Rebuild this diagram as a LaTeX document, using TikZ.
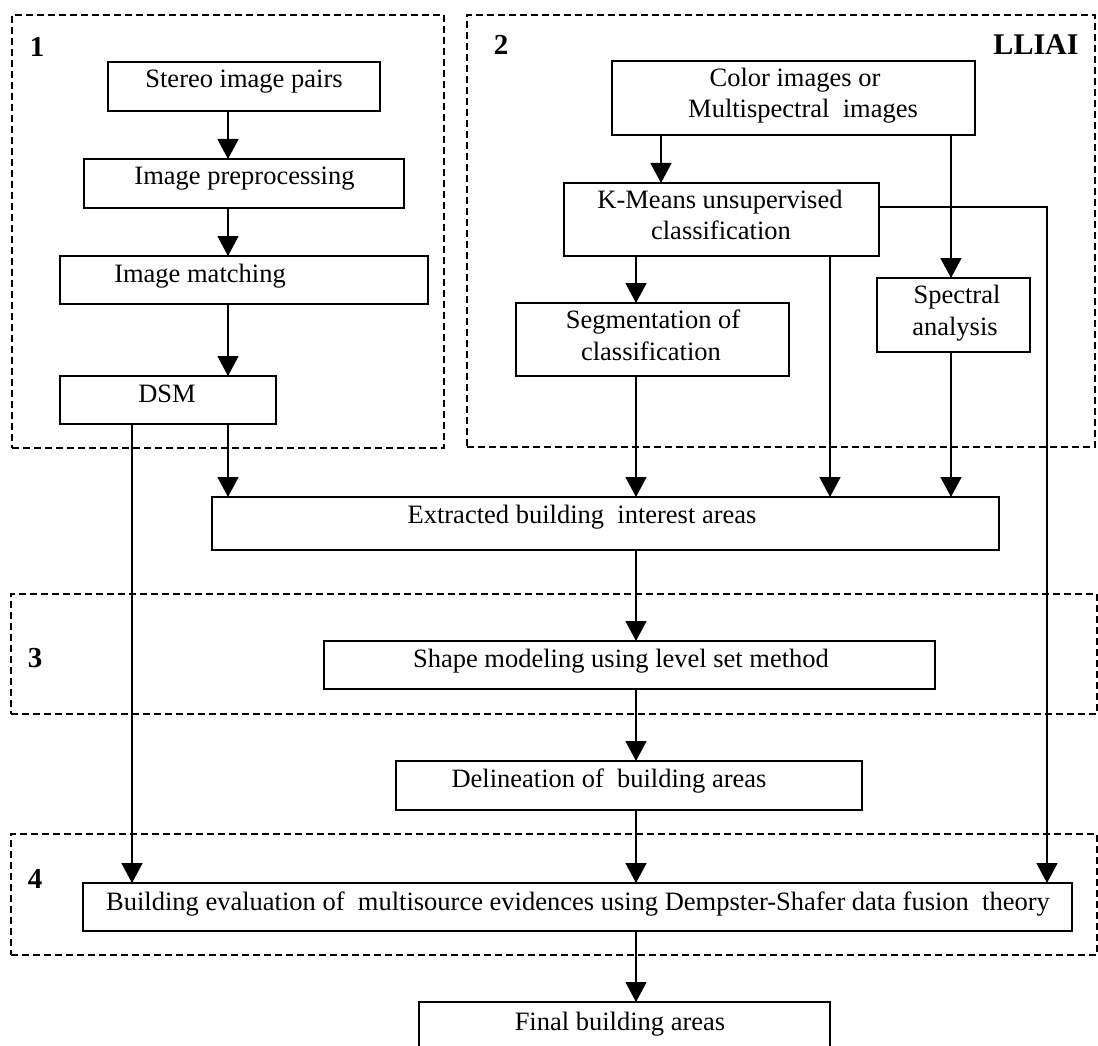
\documentclass[tikz,border=0pt]{standalone}
\usepackage{fontspec}
\setmainfont{Liberation Serif}
\usetikzlibrary{arrows.meta}
\begin{document}
\begin{tikzpicture}[x=1pt,y=-1pt,
  box/.style={draw, line width=2.2pt, rectangle, inner sep=0pt, outer sep=0pt},
  txt/.style={anchor=base, inner sep=0pt, font=\fontsize{26.5}{31}\selectfont},
  tag/.style={anchor=base, inner sep=0pt, font=\fontsize{29}{34}\selectfont\bfseries},
  group/.style={draw, line width=1.9pt, dash pattern=on 7pt off 4pt, rectangle, inner sep=0pt},
  arr/.style={line width=1.6pt, -{Triangle[width=21pt,length=20pt]}},
  link/.style={line width=1.6pt}]
\clip (0,0) rectangle (1098,1046);
\useasboundingbox (0,0) rectangle (1098,1046);

% dashed stage frames
\node[group, minimum width=432pt, minimum height=433pt] (grp1) at (228,231.5) {};
\node[group, minimum width=628pt, minimum height=432pt] (grp2) at (781,231) {};
\node[group, minimum width=1086pt, minimum height=120pt] (grp3) at (554,654) {};
\node[group, minimum width=1086pt, minimum height=121pt] (grp4) at (554,894.5) {};

\node[tag] (n1) at (37,57) {1};
\node[tag] (n2) at (501,55) {2};
\node[tag] (n3) at (35,667) {3};
\node[tag] (n4) at (35,888) {4};
\node[tag, font=\fontsize{30}{34}\selectfont\bfseries] (lab) at (1036,55) {LLIAI};

% stage 1
\node[box, minimum width=272pt, minimum height=49pt] (stereo) at (244,86.5) {};
\node[txt] (stereo-t) at (244,88) {Stereo image pairs};
\node[box, minimum width=320pt, minimum height=49pt] (prep) at (244,183.5) {};
\node[txt] (prep-t) at (244.5,185) {Image preprocessing};
\node[box, minimum width=368pt, minimum height=48pt] (match) at (244,280) {};
\node[txt] (match-t) at (200,282) {Image matching};
\node[box, minimum width=216pt, minimum height=48pt] (dsm) at (168,400) {};
\node[txt] (dsm-t) at (167,402) {DSM};

% stage 2
\node[box, minimum width=363pt, minimum height=74pt] (color) at (793.5,98) {};
\node[txt] (color-t1) at (795,87) {Color images or};
\node[txt] (color-t2) at (803,118) {Multispectral~ images};
\node[box, minimum width=315pt, minimum height=73pt] (kmeans) at (721.5,219.5) {};
\node[txt] (kmeans-t1) at (720,208) {K-Means unsupervised};
\node[txt] (kmeans-t2) at (721,239) {classification};
\node[box, minimum width=273pt, minimum height=73pt] (seg) at (652.5,339.5) {};
\node[txt] (seg-t1) at (653,328) {Segmentation of};
\node[txt] (seg-t2) at (651,360) {classification};
\node[box, minimum width=153pt, minimum height=74pt] (spec) at (953.5,315) {};
\node[txt] (spec-t1) at (957,303) {Spectral};
\node[txt] (spec-t2) at (955,335) {analysis};

% common chain
\node[box, minimum width=787pt, minimum height=53pt] (extr) at (605.5,523.5) {};
\node[txt] (extr-t) at (582,523) {Extracted building~ interest areas};
\node[box, minimum width=611pt, minimum height=48pt] (shape) at (629.5,665) {};
\node[txt] (shape-t) at (621,667) {Shape modeling using level set method};
\node[box, minimum width=466pt, minimum height=49pt] (delin) at (629,785.5) {};
\node[txt] (delin-t) at (609,787) {Delineation of~ building areas};
\node[box, minimum width=989pt, minimum height=48pt] (eval) at (577.5,907) {};
\node[txt] (eval-t) at (578,910) {Building evaluation of~ multisource evidences using Dempster-Shafer data fusion~ theory};
\node[box, minimum width=411pt, minimum height=52pt] (final) at (624.5,1028) {};
\node[txt] (final-t) at (620,1030) {Final building areas};

% connector columns
\coordinate (colA) at (228,0);
\coordinate (colB) at (132,0);
\coordinate (colC) at (661,0);
\coordinate (colD) at (951,0);
\coordinate (colE) at (636,0);
\coordinate (colF) at (830,0);
\coordinate (colG) at (1047,0);
\coordinate (rowK) at (0,207);

\draw[arr] (stereo.south -| colA) -- (prep.north -| colA);
\draw[arr] (prep.south -| colA) -- (match.north -| colA);
\draw[arr] (match.south -| colA) -- (dsm.north -| colA);
\draw[arr] (dsm.south -| colA) -- (extr.north -| colA);
\draw[arr] (dsm.south -| colB) -- (eval.north -| colB);

\draw[arr] (color.south -| colC) -- (kmeans.north -| colC);
\draw[arr] (color.south -| colD) -- (spec.north -| colD);
\draw[arr] (kmeans.south -| colE) -- (seg.north -| colE);
\draw[arr] (kmeans.south -| colF) -- (extr.north -| colF);
\draw[arr] (kmeans.east |- rowK) -- (colG |- rowK) -- (eval.north -| colG);
\draw[arr] (seg.south -| colE) -- (extr.north -| colE);
\draw[arr] (spec.south -| colD) -- (extr.north -| colD);

\draw[arr] (extr.south -| colE) -- (shape.north -| colE);
\draw[arr] (shape.south -| colE) -- (delin.north -| colE);
\draw[arr] (delin.south -| colE) -- (eval.north -| colE);
\draw[arr] (eval.south -| colE) -- (final.north -| colE);
\end{tikzpicture}
\end{document}
